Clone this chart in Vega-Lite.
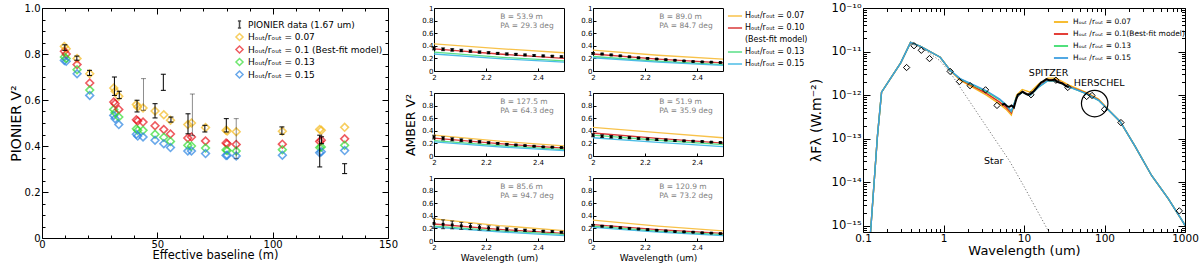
{
"$schema": "https://vega.github.io/schema/vega-lite/v6.json",
"background": "white",
"padding": {"left": 8, "top": 1, "right": 0, "bottom": 0},
"config": {
  "font": "DejaVu Sans",
  "view": {"stroke": "black", "strokeWidth": 1},
  "axis": {"domain": false, "grid": false, "labelFlush": false, "tickColor": "black", "tickWidth": 1, "labelColor": "black", "titleColor": "black", "titleFontWeight": "normal"},
  "legend": {"labelLimit": 400, "labelColor": "black"}
},
"datasets": {
  "ambM": [
    {"p": 1, "w": 2.0, "h07": 0.43, "h10": 0.35, "h13": 0.30, "h15": 0.27},
    {"p": 1, "w": 2.25, "h07": 0.355, "h10": 0.27, "h13": 0.22, "h15": 0.195},
    {"p": 1, "w": 2.5, "h07": 0.29, "h10": 0.20, "h13": 0.16, "h15": 0.14},
    {"p": 2, "w": 2.0, "h07": 0.33, "h10": 0.27, "h13": 0.23, "h15": 0.21},
    {"p": 2, "w": 2.25, "h07": 0.25, "h10": 0.19, "h13": 0.155, "h15": 0.14},
    {"p": 2, "w": 2.5, "h07": 0.19, "h10": 0.13, "h13": 0.10, "h15": 0.09},
    {"p": 3, "w": 2.0, "h07": 0.33, "h10": 0.285, "h13": 0.245, "h15": 0.225},
    {"p": 3, "w": 2.25, "h07": 0.235, "h10": 0.195, "h13": 0.165, "h15": 0.145},
    {"p": 3, "w": 2.5, "h07": 0.16, "h10": 0.125, "h13": 0.10, "h15": 0.085},
    {"p": 4, "w": 2.0, "h07": 0.455, "h10": 0.365, "h13": 0.33, "h15": 0.29},
    {"p": 4, "w": 2.25, "h07": 0.37, "h10": 0.28, "h13": 0.25, "h15": 0.215},
    {"p": 4, "w": 2.5, "h07": 0.29, "h10": 0.205, "h13": 0.18, "h15": 0.15},
    {"p": 5, "w": 2.0, "h07": 0.35, "h10": 0.27, "h13": 0.235, "h15": 0.22},
    {"p": 5, "w": 2.25, "h07": 0.245, "h10": 0.185, "h13": 0.16, "h15": 0.145},
    {"p": 5, "w": 2.5, "h07": 0.165, "h10": 0.12, "h13": 0.105, "h15": 0.085},
    {"p": 6, "w": 2.0, "h07": 0.33, "h10": 0.26, "h13": 0.235, "h15": 0.215},
    {"p": 6, "w": 2.25, "h07": 0.235, "h10": 0.18, "h13": 0.155, "h15": 0.14},
    {"p": 6, "w": 2.5, "h07": 0.16, "h10": 0.12, "h13": 0.10, "h15": 0.085}
  ],
  "ambT": [
    {"p": 1, "t1": "B =  53.9 m", "t2": "PA =  29.3 deg"},
    {"p": 2, "t1": "B =  89.0 m", "t2": "PA =  84.7 deg"},
    {"p": 3, "t1": "B = 127.5 m", "t2": "PA =  64.3 deg"},
    {"p": 4, "t1": "B =  51.9 m", "t2": "PA =  35.9 deg"},
    {"p": 5, "t1": "B =  85.6 m", "t2": "PA =  94.7 deg"},
    {"p": 6, "t1": "B = 120.9 m", "t2": "PA =  73.2 deg"}
  ],
  "ambD": [
    {"p": 1, "w": 2.000, "v": 0.360, "e": 0.025},
    {"p": 1, "w": 2.035, "v": 0.345, "e": 0.022},
    {"p": 1, "w": 2.070, "v": 0.335, "e": 0.020},
    {"p": 1, "w": 2.105, "v": 0.325, "e": 0.020},
    {"p": 1, "w": 2.140, "v": 0.315, "e": 0.018},
    {"p": 1, "w": 2.175, "v": 0.300, "e": 0.017},
    {"p": 1, "w": 2.210, "v": 0.290, "e": 0.016},
    {"p": 1, "w": 2.245, "v": 0.280, "e": 0.015},
    {"p": 1, "w": 2.280, "v": 0.270, "e": 0.015},
    {"p": 1, "w": 2.315, "v": 0.265, "e": 0.014},
    {"p": 1, "w": 2.350, "v": 0.255, "e": 0.013},
    {"p": 1, "w": 2.385, "v": 0.245, "e": 0.013},
    {"p": 1, "w": 2.420, "v": 0.240, "e": 0.012},
    {"p": 1, "w": 2.455, "v": 0.235, "e": 0.012},
    {"p": 1, "w": 2.490, "v": 0.228, "e": 0.012},
    {"p": 2, "w": 2.000, "v": 0.280, "e": 0.012},
    {"p": 2, "w": 2.035, "v": 0.270, "e": 0.011},
    {"p": 2, "w": 2.070, "v": 0.255, "e": 0.011},
    {"p": 2, "w": 2.105, "v": 0.240, "e": 0.010},
    {"p": 2, "w": 2.140, "v": 0.225, "e": 0.010},
    {"p": 2, "w": 2.175, "v": 0.210, "e": 0.009},
    {"p": 2, "w": 2.210, "v": 0.200, "e": 0.009},
    {"p": 2, "w": 2.245, "v": 0.190, "e": 0.008},
    {"p": 2, "w": 2.280, "v": 0.180, "e": 0.008},
    {"p": 2, "w": 2.315, "v": 0.170, "e": 0.007},
    {"p": 2, "w": 2.350, "v": 0.160, "e": 0.007},
    {"p": 2, "w": 2.385, "v": 0.150, "e": 0.007},
    {"p": 2, "w": 2.420, "v": 0.145, "e": 0.006},
    {"p": 2, "w": 2.455, "v": 0.140, "e": 0.006},
    {"p": 2, "w": 2.490, "v": 0.135, "e": 0.006},
    {"p": 3, "w": 2.000, "v": 0.300, "e": 0.030},
    {"p": 3, "w": 2.035, "v": 0.280, "e": 0.028},
    {"p": 3, "w": 2.070, "v": 0.265, "e": 0.025},
    {"p": 3, "w": 2.105, "v": 0.250, "e": 0.022},
    {"p": 3, "w": 2.140, "v": 0.235, "e": 0.020},
    {"p": 3, "w": 2.175, "v": 0.225, "e": 0.018},
    {"p": 3, "w": 2.210, "v": 0.210, "e": 0.015},
    {"p": 3, "w": 2.245, "v": 0.200, "e": 0.013},
    {"p": 3, "w": 2.280, "v": 0.185, "e": 0.012},
    {"p": 3, "w": 2.315, "v": 0.175, "e": 0.010},
    {"p": 3, "w": 2.350, "v": 0.165, "e": 0.008},
    {"p": 3, "w": 2.385, "v": 0.155, "e": 0.007},
    {"p": 3, "w": 2.420, "v": 0.145, "e": 0.006},
    {"p": 3, "w": 2.455, "v": 0.140, "e": 0.006},
    {"p": 3, "w": 2.490, "v": 0.135, "e": 0.005},
    {"p": 4, "w": 2.000, "v": 0.330, "e": 0.025},
    {"p": 4, "w": 2.035, "v": 0.315, "e": 0.022},
    {"p": 4, "w": 2.070, "v": 0.305, "e": 0.020},
    {"p": 4, "w": 2.105, "v": 0.295, "e": 0.018},
    {"p": 4, "w": 2.140, "v": 0.290, "e": 0.016},
    {"p": 4, "w": 2.175, "v": 0.280, "e": 0.015},
    {"p": 4, "w": 2.210, "v": 0.270, "e": 0.014},
    {"p": 4, "w": 2.245, "v": 0.260, "e": 0.013},
    {"p": 4, "w": 2.280, "v": 0.255, "e": 0.012},
    {"p": 4, "w": 2.315, "v": 0.245, "e": 0.011},
    {"p": 4, "w": 2.350, "v": 0.240, "e": 0.010},
    {"p": 4, "w": 2.385, "v": 0.235, "e": 0.010},
    {"p": 4, "w": 2.420, "v": 0.230, "e": 0.009},
    {"p": 4, "w": 2.455, "v": 0.220, "e": 0.008},
    {"p": 4, "w": 2.490, "v": 0.215, "e": 0.008},
    {"p": 5, "w": 2.000, "v": 0.280, "e": 0.080},
    {"p": 5, "w": 2.035, "v": 0.265, "e": 0.070},
    {"p": 5, "w": 2.070, "v": 0.255, "e": 0.062},
    {"p": 5, "w": 2.105, "v": 0.240, "e": 0.055},
    {"p": 5, "w": 2.140, "v": 0.230, "e": 0.048},
    {"p": 5, "w": 2.175, "v": 0.215, "e": 0.042},
    {"p": 5, "w": 2.210, "v": 0.205, "e": 0.036},
    {"p": 5, "w": 2.245, "v": 0.195, "e": 0.030},
    {"p": 5, "w": 2.280, "v": 0.185, "e": 0.025},
    {"p": 5, "w": 2.315, "v": 0.175, "e": 0.020},
    {"p": 5, "w": 2.350, "v": 0.170, "e": 0.017},
    {"p": 5, "w": 2.385, "v": 0.165, "e": 0.015},
    {"p": 5, "w": 2.420, "v": 0.155, "e": 0.013},
    {"p": 5, "w": 2.455, "v": 0.150, "e": 0.012},
    {"p": 5, "w": 2.490, "v": 0.140, "e": 0.012},
    {"p": 6, "w": 2.000, "v": 0.250, "e": 0.012},
    {"p": 6, "w": 2.035, "v": 0.235, "e": 0.011},
    {"p": 6, "w": 2.070, "v": 0.225, "e": 0.011},
    {"p": 6, "w": 2.105, "v": 0.210, "e": 0.010},
    {"p": 6, "w": 2.140, "v": 0.200, "e": 0.010},
    {"p": 6, "w": 2.175, "v": 0.190, "e": 0.009},
    {"p": 6, "w": 2.210, "v": 0.180, "e": 0.009},
    {"p": 6, "w": 2.245, "v": 0.170, "e": 0.008},
    {"p": 6, "w": 2.280, "v": 0.160, "e": 0.008},
    {"p": 6, "w": 2.315, "v": 0.150, "e": 0.007},
    {"p": 6, "w": 2.350, "v": 0.145, "e": 0.007},
    {"p": 6, "w": 2.385, "v": 0.140, "e": 0.007},
    {"p": 6, "w": 2.420, "v": 0.130, "e": 0.006},
    {"p": 6, "w": 2.455, "v": 0.125, "e": 0.006},
    {"p": 6, "w": 2.490, "v": 0.118, "e": 0.006}
  ]
},
"spacing": 0,
"resolve": {"scale": {"color": "independent", "shape": "independent", "opacity": "independent"}},
"hconcat": [
 {
 "spacing": 5,
 "resolve": {"scale": {"color": "independent", "shape": "independent", "opacity": "independent"}},
 "hconcat": [
  {
    "width": 346,
    "height": 230,
    "resolve": {"axis": {"x": "independent", "y": "independent"}},
    "layer": [
    {
      "data": {"values": [
        {"B": 9.7, "h07": 0.833, "h10": 0.812, "h13": 0.787, "h15": 0.772},
        {"B": 10.5, "h07": 0.823, "h10": 0.800, "h13": 0.780, "h15": 0.768},
        {"B": 15.2, "h07": 0.780, "h10": 0.754, "h13": 0.732, "h15": 0.714},
        {"B": 20.7, "h07": 0.714, "h10": 0.674, "h13": 0.643, "h15": 0.620},
        {"B": 31.1, "h07": 0.652, "h10": 0.591, "h13": 0.559, "h15": 0.533},
        {"B": 31.7, "h07": 0.638, "h10": 0.584, "h13": 0.545, "h15": 0.519},
        {"B": 33.3, "h07": 0.616, "h10": 0.559, "h13": 0.526, "h15": 0.493},
        {"B": 40.9, "h07": 0.580, "h10": 0.514, "h13": 0.475, "h15": 0.451},
        {"B": 41.5, "h07": 0.570, "h10": 0.509, "h13": 0.468, "h15": 0.443},
        {"B": 43.8, "h07": 0.565, "h10": 0.504, "h13": 0.468, "h15": 0.439},
        {"B": 49.0, "h07": 0.552, "h10": 0.488, "h13": 0.451, "h15": 0.425},
        {"B": 52.8, "h07": 0.536, "h10": 0.472, "h13": 0.438, "h15": 0.410},
        {"B": 55.7, "h07": 0.512, "h10": 0.452, "h13": 0.420, "h15": 0.393},
        {"B": 63.2, "h07": 0.493, "h10": 0.435, "h13": 0.403, "h15": 0.378},
        {"B": 64.8, "h07": 0.500, "h10": 0.439, "h13": 0.400, "h15": 0.378},
        {"B": 70.9, "h07": 0.480, "h10": 0.422, "h13": 0.391, "h15": 0.367},
        {"B": 79.8, "h07": 0.468, "h10": 0.413, "h13": 0.383, "h15": 0.359},
        {"B": 80.3, "h07": 0.465, "h10": 0.410, "h13": 0.380, "h15": 0.360},
        {"B": 84.2, "h07": 0.462, "h10": 0.407, "h13": 0.378, "h15": 0.357},
        {"B": 104.2, "h07": 0.464, "h10": 0.408, "h13": 0.384, "h15": 0.360},
        {"B": 120.4, "h07": 0.472, "h10": 0.420, "h13": 0.393, "h15": 0.371},
        {"B": 121.1, "h07": 0.468, "h10": 0.425, "h13": 0.396, "h15": 0.375},
        {"B": 131.2, "h07": 0.481, "h10": 0.431, "h13": 0.403, "h15": 0.380}
      ]},
      "transform": [{"fold": ["h07", "h10", "h13", "h15"], "as": ["m", "V"]}],
      "mark": {"type": "point", "filled": false, "size": 60, "strokeWidth": 1.6},
      "encoding": {
        "x": {"field": "B", "type": "quantitative", "scale": {"domain": [0, 150], "nice": false},
              "axis": {"orient": "bottom", "values": [0, 50, 100, 150], "tickSize": -6, "labelPadding": 7, "labelFontSize": 10, "title": "Effective baseline (m)", "titleFontSize": 11.5, "titlePadding": 0}},
        "y": {"field": "V", "type": "quantitative", "scale": {"domain": [0, 1], "nice": false},
              "axis": {"orient": "left", "values": [0, 0.2, 0.4, 0.6, 0.8, 1], "tickSize": -6, "labelPadding": 8, "labelFontSize": 10, "labelExpr": "datum.value == 0 ? '0' : format(datum.value, '.1f')", "title": "PIONIER V²", "titleFontSize": 14, "titlePadding": 1}},
        "color": {"field": "m", "type": "nominal",
                  "scale": {"domain": ["dat", "h07", "h10", "h13", "h15"], "range": ["black", "#F5BA1E", "#E8161E", "#33DD33", "#2A84E2"]},
                  "legend": {"orient": "none", "legendX": 193, "legendY": 12, "title": null, "padding": 0, "labelFontSize": 9, "rowPadding": -2.5, "symbolSize": 50, "symbolStrokeWidth": 1.5,
                             "labelExpr": "datum.label == 'dat' ? 'PIONIER data (1.67 um)' : datum.label == 'h07' ? 'Hₒᵤₜ/rₒᵤₜ = 0.07' : datum.label == 'h10' ? 'Hₒᵤₜ/rₒᵤₜ = 0.1 (Best-fit model)' : datum.label == 'h13' ? 'Hₒᵤₜ/rₒᵤₜ = 0.13' : 'Hₒᵤₜ/rₒᵤₜ = 0.15'"}},
        "shape": {"field": "m", "type": "nominal",
                  "scale": {"domain": ["dat", "h07", "h10", "h13", "h15"], "range": ["M0,-1L0,1M-0.45,-1L0.45,-1M-0.45,1L0.45,1", "diamond", "diamond", "diamond", "diamond"]},
                  "legend": {"orient": "none", "legendX": 193, "legendY": 12, "title": null, "padding": 0, "labelFontSize": 9, "rowPadding": -2.5, "symbolSize": 50, "symbolStrokeWidth": 1.5,
                             "labelExpr": "datum.label == 'dat' ? 'PIONIER data (1.67 um)' : datum.label == 'h07' ? 'Hₒᵤₜ/rₒᵤₜ = 0.07' : datum.label == 'h10' ? 'Hₒᵤₜ/rₒᵤₜ = 0.1 (Best-fit model)' : datum.label == 'h13' ? 'Hₒᵤₜ/rₒᵤₜ = 0.13' : 'Hₒᵤₜ/rₒᵤₜ = 0.15'"}}
      }
    },
    {
      "data": {"name": "pion", "values": [
        {"B": 9.9, "lo": 0.816, "hi": 0.840, "s": "b"},
        {"B": 15.1, "lo": 0.773, "hi": 0.791, "s": "b"},
        {"B": 20.6, "lo": 0.707, "hi": 0.729, "s": "b"},
        {"B": 31.4, "lo": 0.620, "hi": 0.700, "s": "b"},
        {"B": 33.5, "lo": 0.606, "hi": 0.638, "s": "b"},
        {"B": 41.2, "lo": 0.548, "hi": 0.599, "s": "b"},
        {"B": 44.0, "lo": 0.555, "hi": 0.693, "s": "g"},
        {"B": 49.0, "lo": 0.522, "hi": 0.584, "s": "b"},
        {"B": 52.6, "lo": 0.642, "hi": 0.712, "s": "b"},
        {"B": 55.9, "lo": 0.504, "hi": 0.526, "s": "b"},
        {"B": 63.3, "lo": 0.453, "hi": 0.540, "s": "b"},
        {"B": 65.2, "lo": 0.445, "hi": 0.626, "s": "g"},
        {"B": 70.6, "lo": 0.461, "hi": 0.490, "s": "b"},
        {"B": 79.9, "lo": 0.461, "hi": 0.519, "s": "b"},
        {"B": 84.2, "lo": 0.345, "hi": 0.519, "s": "g"},
        {"B": 104.0, "lo": 0.451, "hi": 0.483, "s": "b"},
        {"B": 120.4, "lo": 0.309, "hi": 0.447, "s": "b"},
        {"B": 121.2, "lo": 0.410, "hi": 0.440, "s": "b"},
        {"B": 131.2, "lo": 0.280, "hi": 0.323, "s": "b"}
      ]},
      "mark": {"type": "rule", "strokeWidth": 1, "color": "black"},
      "encoding": {
        "x": {"field": "B", "type": "quantitative", "axis": {"orient": "top", "values": [0, 50, 100, 150], "tickSize": -6, "labels": false, "title": null}},
        "y": {"field": "lo", "type": "quantitative", "axis": {"orient": "right", "values": [0, 0.2, 0.4, 0.6, 0.8, 1], "tickSize": -6, "labels": false, "title": null}},
        "y2": {"field": "hi"},
        "opacity": {"field": "s", "type": "nominal", "scale": {"domain": ["b", "g"], "range": [1, 0.45]}, "legend": null}
      }
    },
    {
      "data": {"name": "pion"},
      "mark": {"type": "tick", "orient": "horizontal", "size": 5, "thickness": 1, "color": "black"},
      "encoding": {
        "x": {"field": "B", "type": "quantitative", "axis": {"orient": "bottom", "values": [10, 20, 30, 40, 60, 70, 80, 90, 110, 120, 130, 140], "tickSize": -3, "labels": false, "title": null}},
        "y": {"field": "lo", "type": "quantitative", "axis": {"orient": "left", "values": [0.05, 0.1, 0.15, 0.25, 0.3, 0.35, 0.45, 0.5, 0.55, 0.65, 0.7, 0.75, 0.85, 0.9, 0.95], "tickSize": -3, "labels": false, "title": null}},
        "opacity": {"field": "s", "type": "nominal", "legend": null}
      }
    },
    {
      "data": {"name": "pion"},
      "mark": {"type": "tick", "orient": "horizontal", "size": 5, "thickness": 1, "color": "black"},
      "encoding": {
        "x": {"field": "B", "type": "quantitative", "axis": {"orient": "top", "values": [10, 20, 30, 40, 60, 70, 80, 90, 110, 120, 130, 140], "tickSize": -3, "labels": false, "title": null}},
        "y": {"field": "hi", "type": "quantitative", "axis": {"orient": "right", "values": [0.05, 0.1, 0.15, 0.25, 0.3, 0.35, 0.45, 0.5, 0.55, 0.65, 0.7, 0.75, 0.85, 0.9, 0.95], "tickSize": -3, "labels": false, "title": null}},
        "opacity": {"field": "s", "type": "nominal", "legend": null}
      }
    }
    ]
  },
  {
    "columns": 2,
    "spacing": {"row": 7, "column": 15},
    "concat": [
      {"width": 130, "height": 63, "resolve": {"axis": {"x": "independent", "y": "independent"}}, "layer": [
        {"data": {"name": "ambM"}, "transform": [{"filter": "datum.p == 1"}, {"fold": ["h07", "h10", "h13", "h15"], "as": ["mm", "V"]}],
         "mark": {"type": "line", "strokeWidth": 1.3, "clip": true},
         "encoding": {
           "x": {"field": "w", "type": "quantitative", "scale": {"domain": [2, 2.5], "nice": false}, "axis": {"values": [2, 2.2, 2.4], "tickSize": -3, "labelPadding": 5, "labelFontSize": 7, "labelExpr": "format(datum.value, '.1~f')", "title": null}},
           "y": {"field": "V", "type": "quantitative", "scale": {"domain": [0, 1], "nice": false}, "axis": {"values": [0, 0.2, 0.4, 0.6, 0.8, 1], "tickSize": -3, "labelPadding": 4, "labelFontSize": 7, "labelExpr": "datum.value == 0 || datum.value == 1 ? format(datum.value, 'd') : format(datum.value, '.1f')", "title": null}},
           "color": {"field": "mm", "type": "nominal", "scale": {"domain": ["h07", "h10", "bf", "h13", "h15"], "range": ["#F8C24A", "#D83838", "rgba(0,0,0,0)", "#58DF86", "#4BBDE6"]},
                     "legend": {"title": null, "orient": "right", "offset": 3, "padding": 0, "symbolType": "stroke", "symbolStrokeWidth": 1.5, "symbolSize": 200, "labelFontSize": 8, "rowPadding": 0, "labelOffset": 2,
                                "labelExpr": "datum.label == 'bf' ? '(Best-fit model)' : datum.label == 'h07' ? 'Hₒᵤₜ/rₒᵤₜ = 0.07' : datum.label == 'h10' ? 'Hₒᵤₜ/rₒᵤₜ = 0.10' : datum.label == 'h13' ? 'Hₒᵤₜ/rₒᵤₜ = 0.13' : 'Hₒᵤₜ/rₒᵤₜ = 0.15'"}}
         }},
        {"data": {"name": "ambD"}, "transform": [{"filter": "datum.p == 1"}], "mark": {"type": "errorbar", "ticks": {"size": 4}, "color": "black"},
         "encoding": {"x": {"field": "w", "type": "quantitative", "axis": null}, "y": {"field": "v", "type": "quantitative", "axis": null}, "yError": {"field": "e"}}},
        {"data": {"name": "ambD"}, "transform": [{"filter": "datum.p == 1"}], "mark": {"type": "point", "shape": "square", "filled": true, "color": "black", "size": 8, "opacity": 1},
         "encoding": {"x": {"field": "w", "type": "quantitative", "axis": null}, "y": {"field": "v", "type": "quantitative", "axis": null}}},
        {"data": {"name": "ambT"}, "transform": [{"filter": "datum.p == 1"}], "mark": {"type": "text", "align": "left", "fontSize": 7.5, "color": "#808080"},
         "encoding": {"x": {"datum": 2.255, "type": "quantitative", "axis": null}, "y": {"datum": 0.86, "type": "quantitative", "axis": null}, "text": {"field": "t1"}}},
        {"data": {"name": "ambT"}, "transform": [{"filter": "datum.p == 1"}], "mark": {"type": "text", "align": "left", "fontSize": 7.5, "color": "#808080"},
         "encoding": {"x": {"datum": 2.255, "type": "quantitative", "axis": null}, "y": {"datum": 0.72, "type": "quantitative", "axis": null}, "text": {"field": "t2"}}}
      ]},
      {"width": 130, "height": 63, "resolve": {"axis": {"x": "independent", "y": "independent"}}, "layer": [
        {"data": {"name": "ambM"}, "transform": [{"filter": "datum.p == 2"}, {"fold": ["h07", "h10", "h13", "h15"], "as": ["mm", "V"]}],
         "mark": {"type": "line", "strokeWidth": 1.3, "clip": true},
         "encoding": {
           "x": {"field": "w", "type": "quantitative", "scale": {"domain": [2, 2.5], "nice": false}, "axis": {"values": [2, 2.2, 2.4], "tickSize": -3, "labelPadding": 5, "labelFontSize": 7, "labelExpr": "format(datum.value, '.1~f')", "title": null}},
           "y": {"field": "V", "type": "quantitative", "scale": {"domain": [0, 1], "nice": false}, "axis": {"values": [0, 0.2, 0.4, 0.6, 0.8, 1], "tickSize": -3, "labelPadding": 4, "labelFontSize": 7, "labelExpr": "datum.value == 0 || datum.value == 1 ? format(datum.value, 'd') : format(datum.value, '.1f')", "title": null}},
           "color": {"field": "mm", "type": "nominal", "scale": {"domain": ["h07", "h10", "bf", "h13", "h15"], "range": ["#F8C24A", "#D83838", "rgba(0,0,0,0)", "#58DF86", "#4BBDE6"]}, "legend": null}
         }},
        {"data": {"name": "ambD"}, "transform": [{"filter": "datum.p == 2"}], "mark": {"type": "errorbar", "ticks": {"size": 4}, "color": "black"},
         "encoding": {"x": {"field": "w", "type": "quantitative", "axis": null}, "y": {"field": "v", "type": "quantitative", "axis": null}, "yError": {"field": "e"}}},
        {"data": {"name": "ambD"}, "transform": [{"filter": "datum.p == 2"}], "mark": {"type": "point", "shape": "square", "filled": true, "color": "black", "size": 8, "opacity": 1},
         "encoding": {"x": {"field": "w", "type": "quantitative", "axis": null}, "y": {"field": "v", "type": "quantitative", "axis": null}}},
        {"data": {"name": "ambT"}, "transform": [{"filter": "datum.p == 2"}], "mark": {"type": "text", "align": "left", "fontSize": 7.5, "color": "#808080"},
         "encoding": {"x": {"datum": 2.255, "type": "quantitative", "axis": null}, "y": {"datum": 0.86, "type": "quantitative", "axis": null}, "text": {"field": "t1"}}},
        {"data": {"name": "ambT"}, "transform": [{"filter": "datum.p == 2"}], "mark": {"type": "text", "align": "left", "fontSize": 7.5, "color": "#808080"},
         "encoding": {"x": {"datum": 2.255, "type": "quantitative", "axis": null}, "y": {"datum": 0.72, "type": "quantitative", "axis": null}, "text": {"field": "t2"}}}
      ]},
      {"width": 130, "height": 63, "resolve": {"axis": {"x": "independent", "y": "independent"}}, "layer": [
        {"data": {"name": "ambM"}, "transform": [{"filter": "datum.p == 3"}, {"fold": ["h07", "h10", "h13", "h15"], "as": ["mm", "V"]}],
         "mark": {"type": "line", "strokeWidth": 1.3, "clip": true},
         "encoding": {
           "x": {"field": "w", "type": "quantitative", "scale": {"domain": [2, 2.5], "nice": false}, "axis": {"values": [2, 2.2, 2.4], "tickSize": -3, "labelPadding": 5, "labelFontSize": 7, "labelExpr": "format(datum.value, '.1~f')", "title": null}},
           "y": {"field": "V", "type": "quantitative", "scale": {"domain": [0, 1], "nice": false}, "axis": {"values": [0, 0.2, 0.4, 0.6, 0.8, 1], "tickSize": -3, "labelPadding": 4, "labelFontSize": 7, "labelExpr": "datum.value == 0 || datum.value == 1 ? format(datum.value, 'd') : format(datum.value, '.1f')", "title": "AMBER V²", "titleFontSize": 12.5, "titlePadding": 4}},
           "color": {"field": "mm", "type": "nominal", "scale": {"domain": ["h07", "h10", "bf", "h13", "h15"], "range": ["#F8C24A", "#D83838", "rgba(0,0,0,0)", "#58DF86", "#4BBDE6"]}, "legend": null}
         }},
        {"data": {"name": "ambD"}, "transform": [{"filter": "datum.p == 3"}], "mark": {"type": "errorbar", "ticks": {"size": 4}, "color": "black"},
         "encoding": {"x": {"field": "w", "type": "quantitative", "axis": null}, "y": {"field": "v", "type": "quantitative", "axis": null}, "yError": {"field": "e"}}},
        {"data": {"name": "ambD"}, "transform": [{"filter": "datum.p == 3"}], "mark": {"type": "point", "shape": "square", "filled": true, "color": "black", "size": 8, "opacity": 1},
         "encoding": {"x": {"field": "w", "type": "quantitative", "axis": null}, "y": {"field": "v", "type": "quantitative", "axis": null}}},
        {"data": {"name": "ambT"}, "transform": [{"filter": "datum.p == 3"}], "mark": {"type": "text", "align": "left", "fontSize": 7.5, "color": "#808080"},
         "encoding": {"x": {"datum": 2.255, "type": "quantitative", "axis": null}, "y": {"datum": 0.86, "type": "quantitative", "axis": null}, "text": {"field": "t1"}}},
        {"data": {"name": "ambT"}, "transform": [{"filter": "datum.p == 3"}], "mark": {"type": "text", "align": "left", "fontSize": 7.5, "color": "#808080"},
         "encoding": {"x": {"datum": 2.255, "type": "quantitative", "axis": null}, "y": {"datum": 0.72, "type": "quantitative", "axis": null}, "text": {"field": "t2"}}}
      ]},
      {"width": 130, "height": 63, "resolve": {"axis": {"x": "independent", "y": "independent"}}, "layer": [
        {"data": {"name": "ambM"}, "transform": [{"filter": "datum.p == 4"}, {"fold": ["h07", "h10", "h13", "h15"], "as": ["mm", "V"]}],
         "mark": {"type": "line", "strokeWidth": 1.3, "clip": true},
         "encoding": {
           "x": {"field": "w", "type": "quantitative", "scale": {"domain": [2, 2.5], "nice": false}, "axis": {"values": [2, 2.2, 2.4], "tickSize": -3, "labelPadding": 5, "labelFontSize": 7, "labelExpr": "format(datum.value, '.1~f')", "title": null}},
           "y": {"field": "V", "type": "quantitative", "scale": {"domain": [0, 1], "nice": false}, "axis": {"values": [0, 0.2, 0.4, 0.6, 0.8, 1], "tickSize": -3, "labelPadding": 4, "labelFontSize": 7, "labelExpr": "datum.value == 0 || datum.value == 1 ? format(datum.value, 'd') : format(datum.value, '.1f')", "title": null}},
           "color": {"field": "mm", "type": "nominal", "scale": {"domain": ["h07", "h10", "bf", "h13", "h15"], "range": ["#F8C24A", "#D83838", "rgba(0,0,0,0)", "#58DF86", "#4BBDE6"]}, "legend": null}
         }},
        {"data": {"name": "ambD"}, "transform": [{"filter": "datum.p == 4"}], "mark": {"type": "errorbar", "ticks": {"size": 4}, "color": "black"},
         "encoding": {"x": {"field": "w", "type": "quantitative", "axis": null}, "y": {"field": "v", "type": "quantitative", "axis": null}, "yError": {"field": "e"}}},
        {"data": {"name": "ambD"}, "transform": [{"filter": "datum.p == 4"}], "mark": {"type": "point", "shape": "square", "filled": true, "color": "black", "size": 8, "opacity": 1},
         "encoding": {"x": {"field": "w", "type": "quantitative", "axis": null}, "y": {"field": "v", "type": "quantitative", "axis": null}}},
        {"data": {"name": "ambT"}, "transform": [{"filter": "datum.p == 4"}], "mark": {"type": "text", "align": "left", "fontSize": 7.5, "color": "#808080"},
         "encoding": {"x": {"datum": 2.255, "type": "quantitative", "axis": null}, "y": {"datum": 0.86, "type": "quantitative", "axis": null}, "text": {"field": "t1"}}},
        {"data": {"name": "ambT"}, "transform": [{"filter": "datum.p == 4"}], "mark": {"type": "text", "align": "left", "fontSize": 7.5, "color": "#808080"},
         "encoding": {"x": {"datum": 2.255, "type": "quantitative", "axis": null}, "y": {"datum": 0.72, "type": "quantitative", "axis": null}, "text": {"field": "t2"}}}
      ]},
      {"width": 130, "height": 63, "resolve": {"axis": {"x": "independent", "y": "independent"}}, "layer": [
        {"data": {"name": "ambM"}, "transform": [{"filter": "datum.p == 5"}, {"fold": ["h07", "h10", "h13", "h15"], "as": ["mm", "V"]}],
         "mark": {"type": "line", "strokeWidth": 1.3, "clip": true},
         "encoding": {
           "x": {"field": "w", "type": "quantitative", "scale": {"domain": [2, 2.5], "nice": false}, "axis": {"values": [2, 2.2, 2.4], "tickSize": -3, "labelPadding": 5, "labelFontSize": 7, "labelExpr": "format(datum.value, '.1~f')", "title": "Wavelength (um)", "titleFontSize": 9, "titlePadding": 3}},
           "y": {"field": "V", "type": "quantitative", "scale": {"domain": [0, 1], "nice": false}, "axis": {"values": [0, 0.2, 0.4, 0.6, 0.8, 1], "tickSize": -3, "labelPadding": 4, "labelFontSize": 7, "labelExpr": "datum.value == 0 || datum.value == 1 ? format(datum.value, 'd') : format(datum.value, '.1f')", "title": null}},
           "color": {"field": "mm", "type": "nominal", "scale": {"domain": ["h07", "h10", "bf", "h13", "h15"], "range": ["#F8C24A", "#D83838", "rgba(0,0,0,0)", "#58DF86", "#4BBDE6"]}, "legend": null}
         }},
        {"data": {"name": "ambD"}, "transform": [{"filter": "datum.p == 5"}], "mark": {"type": "errorbar", "ticks": {"size": 4}, "color": "black"},
         "encoding": {"x": {"field": "w", "type": "quantitative", "axis": null}, "y": {"field": "v", "type": "quantitative", "axis": null}, "yError": {"field": "e"}}},
        {"data": {"name": "ambD"}, "transform": [{"filter": "datum.p == 5"}], "mark": {"type": "point", "shape": "square", "filled": true, "color": "black", "size": 8, "opacity": 1},
         "encoding": {"x": {"field": "w", "type": "quantitative", "axis": null}, "y": {"field": "v", "type": "quantitative", "axis": null}}},
        {"data": {"name": "ambT"}, "transform": [{"filter": "datum.p == 5"}], "mark": {"type": "text", "align": "left", "fontSize": 7.5, "color": "#808080"},
         "encoding": {"x": {"datum": 2.255, "type": "quantitative", "axis": null}, "y": {"datum": 0.86, "type": "quantitative", "axis": null}, "text": {"field": "t1"}}},
        {"data": {"name": "ambT"}, "transform": [{"filter": "datum.p == 5"}], "mark": {"type": "text", "align": "left", "fontSize": 7.5, "color": "#808080"},
         "encoding": {"x": {"datum": 2.255, "type": "quantitative", "axis": null}, "y": {"datum": 0.72, "type": "quantitative", "axis": null}, "text": {"field": "t2"}}}
      ]},
      {"width": 130, "height": 63, "resolve": {"axis": {"x": "independent", "y": "independent"}}, "layer": [
        {"data": {"name": "ambM"}, "transform": [{"filter": "datum.p == 6"}, {"fold": ["h07", "h10", "h13", "h15"], "as": ["mm", "V"]}],
         "mark": {"type": "line", "strokeWidth": 1.3, "clip": true},
         "encoding": {
           "x": {"field": "w", "type": "quantitative", "scale": {"domain": [2, 2.5], "nice": false}, "axis": {"values": [2, 2.2, 2.4], "tickSize": -3, "labelPadding": 5, "labelFontSize": 7, "labelExpr": "format(datum.value, '.1~f')", "title": "Wavelength (um)", "titleFontSize": 9, "titlePadding": 3}},
           "y": {"field": "V", "type": "quantitative", "scale": {"domain": [0, 1], "nice": false}, "axis": {"values": [0, 0.2, 0.4, 0.6, 0.8, 1], "tickSize": -3, "labelPadding": 4, "labelFontSize": 7, "labelExpr": "datum.value == 0 || datum.value == 1 ? format(datum.value, 'd') : format(datum.value, '.1f')", "title": null}},
           "color": {"field": "mm", "type": "nominal", "scale": {"domain": ["h07", "h10", "bf", "h13", "h15"], "range": ["#F8C24A", "#D83838", "rgba(0,0,0,0)", "#58DF86", "#4BBDE6"]}, "legend": null}
         }},
        {"data": {"name": "ambD"}, "transform": [{"filter": "datum.p == 6"}], "mark": {"type": "errorbar", "ticks": {"size": 4}, "color": "black"},
         "encoding": {"x": {"field": "w", "type": "quantitative", "axis": null}, "y": {"field": "v", "type": "quantitative", "axis": null}, "yError": {"field": "e"}}},
        {"data": {"name": "ambD"}, "transform": [{"filter": "datum.p == 6"}], "mark": {"type": "point", "shape": "square", "filled": true, "color": "black", "size": 8, "opacity": 1},
         "encoding": {"x": {"field": "w", "type": "quantitative", "axis": null}, "y": {"field": "v", "type": "quantitative", "axis": null}}},
        {"data": {"name": "ambT"}, "transform": [{"filter": "datum.p == 6"}], "mark": {"type": "text", "align": "left", "fontSize": 7.5, "color": "#808080"},
         "encoding": {"x": {"datum": 2.255, "type": "quantitative", "axis": null}, "y": {"datum": 0.86, "type": "quantitative", "axis": null}, "text": {"field": "t1"}}},
        {"data": {"name": "ambT"}, "transform": [{"filter": "datum.p == 6"}], "mark": {"type": "text", "align": "left", "fontSize": 7.5, "color": "#808080"},
         "encoding": {"x": {"datum": 2.255, "type": "quantitative", "axis": null}, "y": {"datum": 0.72, "type": "quantitative", "axis": null}, "text": {"field": "t2"}}}
      ]}
    ]
  }
 ]
 },
  {
    "width": 322,
    "height": 224,
    "resolve": {"axis": {"x": "independent", "y": "independent"}},
    "layer": [
      {
        "data": {"values": [
          {"w": 0.124, "h07": 7.0e-16, "h10": 7.0e-16, "h13": 7.0e-16, "h15": 7.0e-16},
          {"w": 0.151, "h07": 1.12e-13, "h10": 1.12e-13, "h13": 1.12e-13, "h15": 1.12e-13},
          {"w": 0.170, "h07": 1.17e-12, "h10": 1.17e-12, "h13": 1.17e-12, "h15": 1.17e-12},
          {"w": 0.294, "h07": 5.5e-12, "h10": 5.5e-12, "h13": 5.5e-12, "h15": 5.5e-12},
          {"w": 0.39, "h07": 1.62e-11, "h10": 1.62e-11, "h13": 1.62e-11, "h15": 1.62e-11},
          {"w": 0.518, "h07": 1.32e-11, "h10": 1.32e-11, "h13": 1.32e-11, "h15": 1.32e-11},
          {"w": 0.91, "h07": 7.4e-12, "h10": 7.4e-12, "h13": 7.4e-12, "h15": 7.4e-12},
          {"w": 1.21, "h07": 3.7e-12, "h10": 3.7e-12, "h13": 3.7e-12, "h15": 3.7e-12},
          {"w": 1.61, "h07": 2.19e-12, "h10": 2.29e-12, "h13": 2.35e-12, "h15": 2.4e-12},
          {"w": 2.34, "h07": 1.48e-12, "h10": 1.58e-12, "h13": 1.68e-12, "h15": 1.74e-12},
          {"w": 3.42, "h07": 1.0e-12, "h10": 1.1e-12, "h13": 1.2e-12, "h15": 1.26e-12},
          {"w": 4.99, "h07": 6.2e-13, "h10": 6.9e-13, "h13": 7.8e-13, "h15": 8.1e-13},
          {"w": 6.0, "h07": 4.7e-13, "h10": 5.2e-13, "h13": 5.8e-13, "h15": 6.0e-13},
          {"w": 6.96, "h07": 3.5e-13, "h10": 3.9e-13, "h13": 4.2e-13, "h15": 4.3e-13},
          {"w": 8.1, "h07": 1.0e-12, "h10": 8.7e-13, "h13": 9.1e-13, "h15": 9.1e-13},
          {"w": 9.5, "h07": 1.35e-12, "h10": 1.2e-12, "h13": 1.17e-12, "h15": 1.17e-12},
          {"w": 11.9, "h07": 1.17e-12, "h10": 1.0e-12, "h13": 9.8e-13, "h15": 9.8e-13},
          {"w": 15.3, "h07": 1.82e-12, "h10": 1.62e-12, "h13": 1.55e-12, "h15": 1.55e-12},
          {"w": 19.7, "h07": 2.45e-12, "h10": 2.24e-12, "h13": 2.14e-12, "h15": 2.14e-12},
          {"w": 24.9, "h07": 2.45e-12, "h10": 2.24e-12, "h13": 2.14e-12, "h15": 2.14e-12},
          {"w": 36.2, "h07": 1.7e-12, "h10": 1.58e-12, "h13": 1.55e-12, "h15": 1.55e-12},
          {"w": 58.2, "h07": 1.17e-12, "h10": 1.12e-12, "h13": 1.1e-12, "h15": 1.1e-12},
          {"w": 84.3, "h07": 8.1e-13, "h10": 7.8e-13, "h13": 7.6e-13, "h15": 7.6e-13},
          {"w": 124, "h07": 3.8e-13, "h10": 3.8e-13, "h13": 3.8e-13, "h15": 3.8e-13},
          {"w": 157, "h07": 2.45e-13, "h10": 2.45e-13, "h13": 2.45e-13, "h15": 2.45e-13},
          {"w": 241, "h07": 6.6e-14, "h10": 6.6e-14, "h13": 6.6e-14, "h15": 6.6e-14},
          {"w": 386, "h07": 1.41e-14, "h10": 1.41e-14, "h13": 1.41e-14, "h15": 1.41e-14},
          {"w": 619, "h07": 4.2e-15, "h10": 4.2e-15, "h13": 4.2e-15, "h15": 4.2e-15},
          {"w": 943, "h07": 1.23e-15, "h10": 1.23e-15, "h13": 1.23e-15, "h15": 1.23e-15},
          {"w": 1000, "h07": 1.02e-15, "h10": 1.02e-15, "h13": 1.02e-15, "h15": 1.02e-15}
        ]},
        "transform": [{"fold": ["h07", "h10", "h13", "h15"], "as": ["mr", "F"]}],
        "mark": {"type": "line", "strokeWidth": 1.4, "clip": true},
        "encoding": {
          "x": {"field": "w", "type": "quantitative", "scale": {"type": "log", "domain": [0.1, 1000], "nice": false},
                "axis": {"orient": "bottom", "values": [0.1, 1, 10, 100, 1000], "tickSize": -7, "labelPadding": 8, "labelFontSize": 10.5, "labelExpr": "datum.value < 0.5 ? '0.1' : format(datum.value, 'd')", "title": "Wavelength (um)", "titleFontSize": 13, "titlePadding": 1}},
          "y": {"field": "F", "type": "quantitative", "scale": {"type": "log", "domain": [7.2e-16, 1e-10], "nice": false},
                "axis": {"orient": "left", "values": [1e-15, 1e-14, 1e-13, 1e-12, 1e-11, 1e-10], "tickSize": -7, "labelPadding": 9, "labelFontSize": 11.5,
                         "labelExpr": "datum.value < 2e-15 ? '10⁻¹⁵' : datum.value < 2e-14 ? '10⁻¹⁴' : datum.value < 2e-13 ? '10⁻¹³' : datum.value < 2e-12 ? '10⁻¹²' : datum.value < 2e-11 ? '10⁻¹¹' : '10⁻¹⁰'",
                         "title": "λFλ (W.m⁻²)", "titleFontSize": 14, "titlePadding": 8}},
          "color": {"field": "mr", "type": "nominal",
                    "scale": {"domain": ["h07", "h10", "h13", "h15"], "range": ["#F6B61C", "#E02A22", "#3DDD6E", "#3E9FE0"]},
                    "legend": {"orient": "none", "legendX": 190, "legendY": 6, "title": null, "padding": 0, "symbolType": "stroke", "symbolStrokeWidth": 1.8, "symbolSize": 200, "labelFontSize": 7.5, "rowPadding": -1.5,
                               "labelExpr": "datum.label == 'h07' ? 'Hₒᵤₜ /rₒᵤₜ = 0.07' : datum.label == 'h10' ? 'Hₒᵤₜ /rₒᵤₜ = 0.1(Best-fit model)' : datum.label == 'h13' ? 'Hₒᵤₜ /rₒᵤₜ = 0.13' : 'Hₒᵤₜ /rₒᵤₜ = 0.15'"}},
          "opacity": {"field": "mr", "type": "nominal", "scale": {"domain": ["h07", "h10", "h13", "h15"], "range": [1, 1, 1, 0.6]}, "legend": null}
        }
      },
      {
        "data": {"values": [
          {"w": 0.39, "F": 1.55e-11}, {"w": 0.6, "F": 1.05e-11}, {"w": 0.9, "F": 6.2e-12}, {"w": 1.21, "F": 3.3e-12},
          {"w": 2.0, "F": 8.3e-13}, {"w": 4.13, "F": 1.12e-13}, {"w": 6.6, "F": 3.1e-14}, {"w": 10, "F": 8e-15}, {"w": 21, "F": 6.5e-16}
        ]},
        "mark": {"type": "line", "color": "#777777", "strokeWidth": 1, "strokeDash": [1.2, 2], "clip": true},
        "encoding": {
          "x": {"field": "w", "type": "quantitative", "axis": {"orient": "top", "values": [0.1, 1, 10, 100, 1000], "tickSize": -7, "labels": false, "title": null}},
          "y": {"field": "F", "type": "quantitative", "axis": {"orient": "right", "values": [1e-15, 1e-14, 1e-13, 1e-12, 1e-11, 1e-10], "tickSize": -7, "labels": false, "title": null}}
        }
      },
      {
        "data": {"values": [
          {"w": 5.3, "F": 6.0e-13}, {"w": 5.7, "F": 6.3e-13}, {"w": 6.2, "F": 5.5e-13}, {"w": 6.6, "F": 5.4e-13}, {"w": 7.0, "F": 5.8e-13},
          {"w": 7.5, "F": 5.2e-13}, {"w": 8.0, "F": 8.0e-13}, {"w": 8.4, "F": 1.02e-12}, {"w": 9.0, "F": 1.1e-12}, {"w": 9.6, "F": 1.2e-12},
          {"w": 10.3, "F": 1.1e-12}, {"w": 11.1, "F": 1.02e-12}, {"w": 12.0, "F": 1.05e-12}, {"w": 13.4, "F": 1.26e-12}, {"w": 14.5, "F": 1.5e-12},
          {"w": 16.3, "F": 1.95e-12}, {"w": 17.5, "F": 2.1e-12}, {"w": 19.0, "F": 2.34e-12}, {"w": 20.5, "F": 2.2e-12}, {"w": 22.5, "F": 2.19e-12},
          {"w": 24.0, "F": 2.3e-12}, {"w": 25.5, "F": 2.05e-12}, {"w": 27.4, "F": 1.95e-12}, {"w": 30.0, "F": 1.85e-12}, {"w": 33.0, "F": 1.62e-12}, {"w": 36.0, "F": 1.51e-12}
        ]},
        "mark": {"type": "line", "color": "black", "strokeWidth": 2},
        "encoding": {
          "x": {"field": "w", "type": "quantitative", "axis": {"orient": "bottom", "values": [0.2, 0.3, 0.4, 0.5, 0.6, 0.7, 0.8, 0.9, 2, 3, 4, 5, 6, 7, 8, 9, 20, 30, 40, 50, 60, 70, 80, 90, 200, 300, 400, 500, 600, 700, 800, 900], "tickSize": -3.5, "labels": false, "title": null}},
          "y": {"field": "F", "type": "quantitative", "axis": {"orient": "left", "values": [8e-16, 9e-16, 2e-15, 3e-15, 4e-15, 5e-15, 6e-15, 7e-15, 8e-15, 9e-15, 2e-14, 3e-14, 4e-14, 5e-14, 6e-14, 7e-14, 8e-14, 9e-14, 2e-13, 3e-13, 4e-13, 5e-13, 6e-13, 7e-13, 8e-13, 9e-13, 2e-12, 3e-12, 4e-12, 5e-12, 6e-12, 7e-12, 8e-12, 9e-12, 2e-11, 3e-11, 4e-11, 5e-11, 6e-11, 7e-11, 8e-11, 9e-11], "tickSize": -3.5, "labels": false, "title": null}}
        }
      },
      {
        "data": {"values": [
          {"w": 0.348, "F": 4.3e-12}, {"w": 0.43, "F": 1.36e-11}, {"w": 0.53, "F": 1.07e-11}, {"w": 0.67, "F": 6.9e-12},
          {"w": 1.21, "F": 3.5e-12}, {"w": 1.58, "F": 2.05e-12}, {"w": 2.14, "F": 1.65e-12}, {"w": 3.33, "F": 1.32e-12},
          {"w": 4.62, "F": 5.8e-13}, {"w": 12.2, "F": 1.02e-12}, {"w": 24.9, "F": 2.2e-12}, {"w": 35, "F": 1.5e-12},
          {"w": 60, "F": 9.3e-13}, {"w": 70, "F": 9.8e-13}, {"w": 100, "F": 4.7e-13}, {"w": 160, "F": 2.34e-13}, {"w": 850, "F": 2.2e-15}
        ]},
        "mark": {"type": "point", "shape": "diamond", "filled": false, "color": "black", "size": 40, "strokeWidth": 1, "opacity": 1},
        "encoding": {
          "x": {"field": "w", "type": "quantitative", "axis": {"orient": "top", "values": [0.2, 0.3, 0.4, 0.5, 0.6, 0.7, 0.8, 0.9, 2, 3, 4, 5, 6, 7, 8, 9, 20, 30, 40, 50, 60, 70, 80, 90, 200, 300, 400, 500, 600, 700, 800, 900], "tickSize": -3.5, "labels": false, "title": null}},
          "y": {"field": "F", "type": "quantitative", "axis": {"orient": "right", "values": [8e-16, 9e-16, 2e-15, 3e-15, 4e-15, 5e-15, 6e-15, 7e-15, 8e-15, 9e-15, 2e-14, 3e-14, 4e-14, 5e-14, 6e-14, 7e-14, 8e-14, 9e-14, 2e-13, 3e-13, 4e-13, 5e-13, 6e-13, 7e-13, 8e-13, 9e-13, 2e-12, 3e-12, 4e-12, 5e-12, 6e-12, 7e-12, 8e-12, 9e-12, 2e-11, 3e-11, 4e-11, 5e-11, 6e-11, 7e-11, 8e-11, 9e-11], "tickSize": -3.5, "labels": false, "title": null}}
        }
      },
      {
        "data": {"values": [
          {"lab": "SPITZER", "w": 20.2, "F": 3.3e-12},
          {"lab": "HERSCHEL", "w": 86, "F": 1.86e-12},
          {"lab": "Star", "w": 4.2, "F": 3.05e-14}
        ]},
        "mark": {"type": "text", "fontSize": 9.5, "color": "black", "baseline": "middle"},
        "encoding": {
          "x": {"field": "w", "type": "quantitative", "axis": null},
          "y": {"field": "F", "type": "quantitative", "axis": null},
          "text": {"field": "lab"}
        }
      },
      {
        "data": {"values": [{"w": 75.5, "F": 6.4e-13}]},
        "mark": {"type": "point", "shape": "circle", "filled": false, "color": "black", "size": 700, "strokeWidth": 1.2, "opacity": 1},
        "encoding": {
          "x": {"field": "w", "type": "quantitative", "axis": null},
          "y": {"field": "F", "type": "quantitative", "axis": null}
        }
      }
    ]
  }
]
}
